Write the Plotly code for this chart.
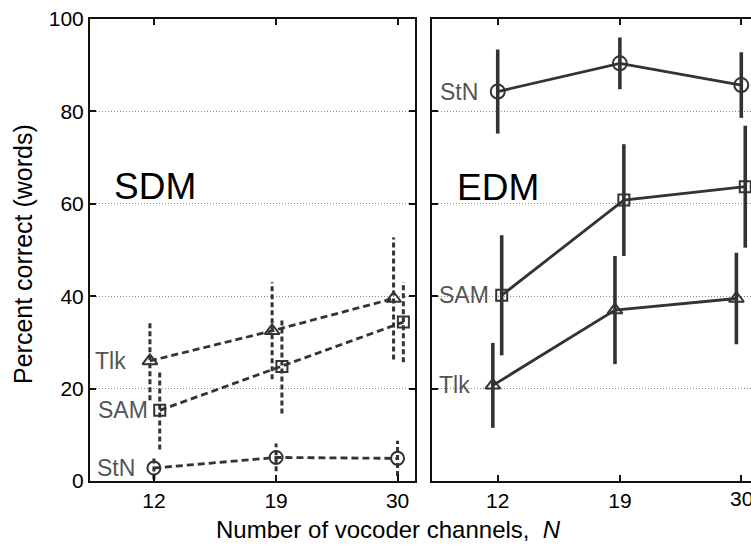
import math
import plotly.graph_objects as go

# Number of vocoder channels
channels = [12, 19, 30]

# SDM condition: mean percent correct (words) and error half-widths
sdm_tlk = [26.0, 32.5, 39.5]
sdm_tlk_err = [8.5, 10.5, 13.2]
sdm_sam = [15.3, 24.8, 34.4]
sdm_sam_err = [8.5, 10.2, 8.7]
sdm_stn = [2.8, 5.1, 4.9]
sdm_stn_err = [2.5, 3.0, 3.8]

# EDM condition
edm_stn = [84.3, 90.4, 85.7]
edm_stn_err = [9.1, 5.6, 7.1]
edm_sam = [40.2, 60.8, 63.7]
edm_sam_err = [13.0, 12.1, 13.2]
edm_tlk = [20.7, 37.0, 39.5]
edm_tlk_err = [9.2, 11.7, 9.9]

y_ticks = [0, 20, 40, 60, 80, 100]

INK = "#333333"
LABEL = "#555555"
AXIS = "#111111"
FONT = "Liberation Sans, Arial, Helvetica, sans-serif"

W, H = 751, 560
ML, MR, MT, MB = 90, 0, 19, 79
PW = W - ML - MR
PH = H - MT - MB


def nudge(xs, dec):
    """Small horizontal offset (in decades) so overlapping series separate."""
    return [x * 10 ** dec for x in xs]


def bar_path(xs, ys, errs):
    bx, by = [], []
    for x, y, e in zip(xs, ys, errs):
        bx += [x, x, None]
        by += [y - e, y + e, None]
    return bx, by


fig = go.Figure()

panels = [
    dict(
        xa="x", ya="y", dash_line="7px,4px", dash_bar="5px,3px", lw=2.8, bw=3.0,
        data=[
            ("Tlk", sdm_tlk, sdm_tlk_err, "triangle-up-open", 13, -0.0065),
            ("SAM", sdm_sam, sdm_sam_err, "square-open", 11, 0.0095),
            ("StN", sdm_stn, sdm_stn_err, "circle-open", 13, 0.0),
        ],
    ),
    dict(
        xa="x2", ya="y2", dash_line="solid", dash_bar="solid", lw=2.8, bw=3.6,
        data=[
            ("Tlk", edm_tlk, edm_tlk_err, "triangle-up-open", 13, -0.008),
            ("SAM", edm_sam, edm_sam_err, "square-open", 11, 0.0065),
            ("StN", edm_stn, edm_stn_err, "circle-open", 14, 0.0),
        ],
    ),
]

for p in panels:
    for name, ys, errs, sym, size, dec in p["data"]:
        xs = nudge(channels, dec)
        bx, by = bar_path(xs, ys, errs)
        fig.add_trace(go.Scatter(
            x=bx, y=by, mode="lines", xaxis=p["xa"], yaxis=p["ya"],
            line=dict(color=INK, width=p["bw"], dash=p["dash_bar"]),
            hoverinfo="skip", showlegend=False,
        ))
        fig.add_trace(go.Scatter(
            x=xs, y=ys, mode="lines+markers", name=name,
            xaxis=p["xa"], yaxis=p["ya"],
            line=dict(color=INK, width=p["lw"], dash=p["dash_line"]),
            marker=dict(symbol=sym, size=size, color=INK,
                        line=dict(color=INK, width=2.0)),
            showlegend=False,
        ))

# Series labels next to the first point of each curve
sdm_labels = [("Tlk", sdm_tlk[0], -26), ("SAM", sdm_sam[0], -4), ("StN", sdm_stn[0], -17)]
edm_labels = [("StN", edm_stn[0], -18), ("SAM", edm_sam[0], -7), ("Tlk", edm_tlk[0], -26)]
annotations = []
for (labels, xr, yr) in [(sdm_labels, "x", "y"), (edm_labels, "x2", "y2")]:
    for text, yv, shift in labels:
        annotations.append(dict(
            x=math.log10(channels[0]), y=yv, xref=xr, yref=yr, text=text,
            showarrow=False, xanchor="right", yanchor="middle", xshift=shift,
            font=dict(family=FONT, size=23, color=LABEL),
        ))

# The last tick label of the right panel sits at the page edge; draw it explicitly
annotations.append(dict(
    x=math.log10(channels[-1]), y=0, xref="x2", yref="y2", text=str(channels[-1]),
    showarrow=False, xanchor="center", yanchor="top", yshift=-4,
    font=dict(family=FONT, size=21, color="#000"),
))

# Panel titles
annotations.append(dict(x=0.068, y=0.638, xref="x domain", yref="y domain", text="SDM",
                        showarrow=False, xanchor="left", yanchor="middle",
                        font=dict(family=FONT, size=37, color="#000")))
annotations.append(dict(x=0.072, y=0.636, xref="x2 domain", yref="y2 domain", text="EDM",
                        showarrow=False, xanchor="left", yanchor="middle",
                        font=dict(family=FONT, size=37, color="#000")))

# Axis titles
annotations.append(dict(x=(388 - ML) / PW, y=(MT + PH - 529) / PH, xref="paper", yref="paper",
                        text="Number of vocoder channels,  <i>N</i>", showarrow=False,
                        xanchor="center", yanchor="middle",
                        font=dict(family=FONT, size=24, color="#000")))
annotations.append(dict(x=(23 - ML) / PW, y=(MT + PH - 254) / PH, xref="paper", yref="paper",
                        text="Percent correct (words)", showarrow=False, textangle=-90,
                        xanchor="center", yanchor="middle",
                        font=dict(family=FONT, size=25, color="#000")))

common_x = dict(
    type="log", tickvals=channels, ticktext=[str(c) for c in channels],
    ticks="inside", ticklen=6, tickwidth=1.5, tickcolor=AXIS,
    showline=True, linecolor=AXIS, linewidth=2, mirror="ticks",
    showgrid=False, zeroline=False,
    tickfont=dict(family=FONT, size=21, color="#000"),
)
common_y = dict(
    range=[0, 100], tickvals=y_ticks,
    ticks="inside", ticklen=6, tickwidth=1.5, tickcolor=AXIS,
    showline=True, linecolor=AXIS, linewidth=2,
    showgrid=True, gridcolor="#888888", gridwidth=1, griddash="1px,2px",
    zeroline=False,
    tickfont=dict(family=FONT, size=21, color="#000"),
)

fig.update_layout(
    width=W, height=H,
    margin=dict(l=ML, r=MR, t=MT, b=MB),
    paper_bgcolor="white", plot_bgcolor="white",
    showlegend=False,
    xaxis=dict(common_x, domain=[0, (414.5 - ML) / PW], range=[0.9748, 1.5048], anchor="y"),
    xaxis2=dict(common_x, domain=[(432 - ML) / PW, 1], range=[0.9718, 1.4930], anchor="y2"),
    yaxis=dict(common_y, domain=[0, 1], anchor="x", mirror="ticks"),
    yaxis2=dict(common_y, domain=[0, 1], anchor="x2", mirror=False, showticklabels=False),
    annotations=annotations,
)

fig.write_html("out.html")
